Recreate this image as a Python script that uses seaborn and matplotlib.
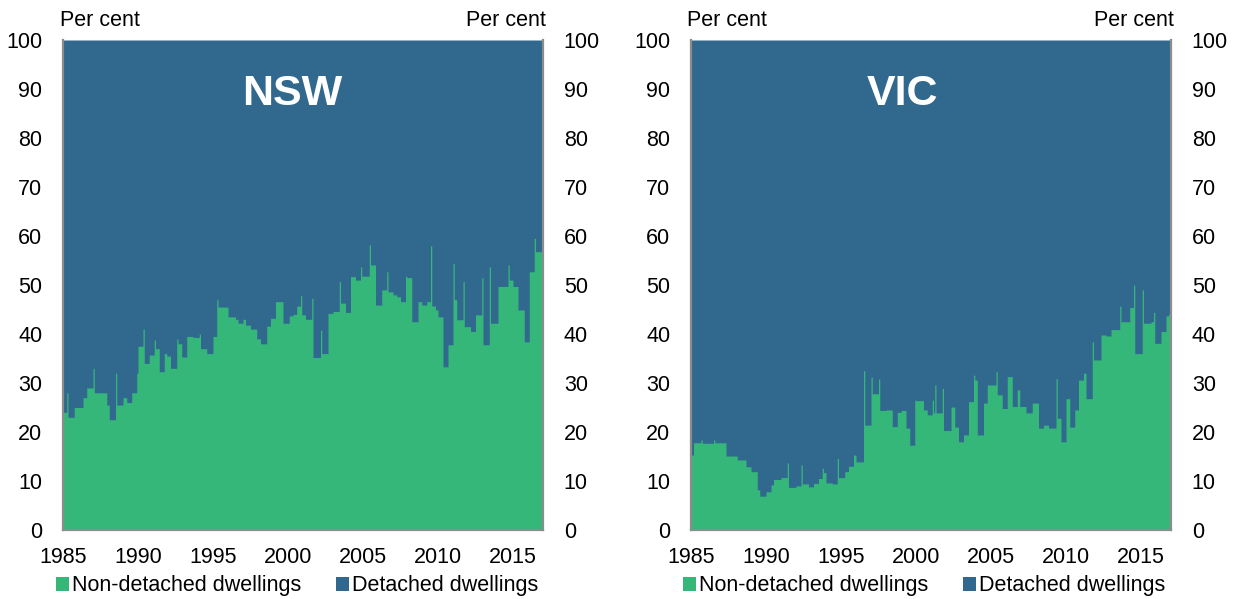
import numpy as np
import pandas as pd
import matplotlib
matplotlib.use("Agg")
import matplotlib.pyplot as plt
from matplotlib.patches import Patch
import seaborn as sns

# Monthly share of dwelling approvals, Jan 1985 - Dec 2016 (per cent)
YEAR_START, YEAR_END = 1985, 2017
year_ticks = [1985, 1990, 1995, 2000, 2005, 2010, 2015]
y_ticks = list(range(0, 101, 10))
series_labels = ["Non-detached dwellings", "Detached dwellings"]
panel_titles = ["NSW", "VIC"]

nsw_non_detached = [
    24, 24, 24, 28, 23, 23, 23, 23, 23, 25, 25, 25,                      # 1985
    25, 25, 25, 25, 27, 27, 27, 29, 29, 29, 29, 29,                      # 1986
    33, 28, 28, 28, 28, 28, 28, 28, 28, 28, 28, 25.5,                    # 1987
    25.5, 22.5, 22.5, 22.5, 22.5, 22.5, 32, 25.5, 25.5, 25.5, 25.5, 25.5,  # 1988
    27, 27, 27, 26, 26, 26, 26, 28, 28, 28, 28, 32,                      # 1989
    37.5, 37.5, 37.5, 37.5, 41, 34, 34, 34, 34, 35.7, 35.7, 35.7,        # 1990
    35.7, 38.8, 37, 37, 37, 32.3, 32.3, 32.3, 32.3, 36, 36, 35.5,        # 1991
    35.5, 35.5, 33, 33, 33, 33, 33, 39, 38, 38, 38, 35.3,                # 1992
    35.3, 35.3, 35.3, 39.5, 39.5, 39.5, 39.5, 39.5, 39.3, 39.3, 39.3, 39.3,  # 1993
    39.3, 40, 37, 37, 37, 37, 37, 36, 36, 36, 36, 36,                    # 1994
    39.5, 39.5, 39.5, 47, 45.5, 45.5, 45.5, 45.5, 45.5, 45.5, 45.5, 45.5,  # 1995
    43.5, 43.5, 43.5, 43.5, 43.5, 43.5, 43, 43, 42.2, 42.2, 42.2, 42.2,  # 1996
    43, 43, 41.8, 41.8, 41.8, 41.8, 41, 41, 41, 41, 41, 39,              # 1997
    39, 39, 38, 38, 38, 38, 38, 41.6, 41.6, 41.6, 43.2, 43.2,            # 1998
    43.2, 43.2, 46.6, 46.6, 46.6, 46.6, 46.6, 46.6, 42.2, 42.2, 42.2, 42.2,  # 1999
    42.2, 43.7, 43.7, 43.7, 44, 44, 44, 45.7, 45.7, 45.7, 47.8, 43.9,    # 2000
    43.9, 43.9, 43, 43, 43, 43, 43, 47.3, 35.2, 35.2, 35.2, 35.2,        # 2001
    35.2, 35.2, 40.8, 36, 36, 36, 36, 36, 44.2, 44.2, 44.2, 44.2,        # 2002
    44.6, 44.6, 44.6, 44.6, 44.6, 50.7, 46.3, 46.3, 46.3, 46.3, 44.4, 44.4,  # 2003
    44.4, 44.4, 51.7, 51.7, 51.7, 51.7, 51, 51, 51, 51, 53.7, 51.8,      # 2004
    51.8, 51.8, 51.8, 51.8, 51.8, 58.2, 54.1, 54.1, 54.1, 54.1, 45.9, 45.9,  # 2005
    45.9, 45.9, 45.9, 49, 49, 49, 49, 52.7, 48.6, 48.6, 48.6, 48.6,      # 2006
    48, 48, 48, 47.6, 47.6, 47.6, 46.6, 46.6, 46.6, 46.6, 51.8, 51.5,    # 2007
    51.5, 51.5, 51.5, 42.5, 42.5, 42.5, 42.5, 42.5, 46.6, 46.6, 46.6, 45.9,  # 2008
    45.9, 45.9, 45.9, 46.6, 46.6, 46.6, 58, 45.7, 45.7, 45.7, 44.9, 44.9,  # 2009
    43.5, 43.5, 43.5, 43.5, 33.3, 33.3, 33.3, 33.3, 37.8, 37.8, 37.8, 37.8,  # 2010
    54.4, 47, 47, 42.9, 42.9, 42.9, 42.9, 42.9, 50.7, 41.5, 41.5, 41.5,  # 2011
    41.5, 41.5, 40.5, 40.5, 40.5, 40.5, 43.9, 43.9, 43.9, 43.9, 43.9, 51.5,  # 2012
    37.8, 37.8, 37.8, 37.8, 37.8, 53.7, 42.2, 42.2, 42.2, 42.2, 42.2, 42.2,  # 2013
    49.7, 49.7, 49.7, 49.7, 49.7, 49.7, 49.7, 49.7, 54.1, 51, 51, 51,    # 2014
    49.7, 49.7, 49.7, 49.7, 44.9, 44.9, 44.9, 44.9, 44.9, 38.4, 38.4, 38.4,  # 2015
    38.4, 52.7, 52.7, 52.7, 52.7, 59.5, 56.8, 56.8, 56.8, 56.8, 56.8, 56.8,  # 2016
]

vic_non_detached = [
    15.3, 15.3, 17.8, 17.8, 17.8, 17.8, 17.8, 17.8, 18.4, 17.7, 17.7, 17.7,  # 1985
    17.7, 17.7, 17.7, 17.7, 17.7, 17.7, 18.4, 17.8, 17.8, 17.8, 17.8, 17.8,  # 1986
    17.8, 17.8, 17.8, 17.8, 15.1, 15.1, 15.1, 15.1, 15.1, 15.1, 15.1, 15.1,  # 1987
    15.1, 14.3, 14.3, 14.3, 14.3, 14.3, 14.3, 14.3, 12.9, 12.9, 12.9, 12.9,  # 1988
    11.9, 11.9, 11.9, 11.9, 11.9, 8.2, 8.2, 6.9, 6.9, 6.9, 6.9, 6.9,         # 1989
    7.8, 7.8, 7.8, 7.8, 9.2, 9.2, 10.3, 10.3, 10.3, 10.3, 10.3, 10.3,        # 1990
    10.7, 10.7, 10.7, 10.7, 10.7, 13.7, 8.7, 8.7, 8.7, 8.7, 8.7, 8.7,        # 1991
    9, 9, 9, 9, 13.3, 9.4, 9.4, 9.4, 9.4, 9.4, 8.8, 8.8,                     # 1992
    8.8, 8.8, 9.5, 9.5, 9.5, 9.5, 10.5, 10.5, 10.5, 12.6, 11.7, 11.7,        # 1993
    9.6, 9.6, 9.6, 9.6, 9.6, 9.4, 9.4, 9.4, 9.4, 14.6, 10.7, 10.7,           # 1994
    10.7, 10.7, 10.7, 11.9, 11.9, 11.9, 13, 13, 13, 13, 15.3, 15.3,          # 1995
    13.9, 13.9, 13.9, 13.9, 13.9, 13.9, 32.5, 21.4, 21.4, 21.4, 21.4, 21.4,  # 1996
    31.2, 27.8, 27.8, 27.8, 27.8, 27.8, 30.8, 24.4, 24.4, 24.4, 24.4, 24.4,  # 1997
    24.5, 24.5, 24.5, 24.5, 24.5, 21.1, 21.1, 21.1, 21.1, 24, 24, 24,        # 1998
    24.4, 24.4, 24.4, 24.4, 20.8, 20.8, 20.8, 17.3, 17.3, 17.3, 17.3, 26.5,  # 1999
    26.4, 26.4, 26.4, 26.4, 26.4, 26.4, 24.5, 24.5, 24.5, 23.5, 23.5, 23.5,  # 2000
    23.5, 26.5, 23.9, 29.6, 23.9, 23.9, 23.9, 23.9, 23.9, 28.9, 20.3, 20.3,  # 2001
    20.3, 20.3, 20.3, 20.3, 25.1, 25.1, 25.1, 21, 21, 21, 18, 18,            # 2002
    18, 18, 19.4, 19.4, 19.4, 19.4, 26.2, 26.2, 26.2, 26.2, 31.6, 30.6,      # 2003
    30.6, 19.4, 19.4, 19.4, 19.4, 19.4, 25.9, 25.9, 25.9, 29.6, 29.6, 29.6,  # 2004
    29.6, 29.6, 29.6, 29.6, 32.3, 27.6, 27.6, 27.6, 27.6, 24.8, 24.8, 24.8,  # 2005
    24.8, 31.3, 31.3, 31.3, 31.3, 25.2, 25.2, 25.2, 25.2, 28.6, 28.6, 25.2,  # 2006
    25.2, 25.2, 25.2, 25.2, 23.9, 23.9, 23.9, 23.9, 23.9, 25.9, 25.9, 25.9,  # 2007
    25.9, 25.9, 20.8, 20.8, 20.8, 20.8, 21.4, 21.4, 21.4, 21.4, 20.8, 20.8,  # 2008
    20.8, 20.8, 20.8, 20.8, 30.9, 22.8, 22.8, 22.8, 18, 18, 18, 18,          # 2009
    26.8, 26.8, 26.8, 21, 21, 21, 21, 24.5, 24.5, 24.5, 30.6, 30.6,          # 2010
    30.6, 30.6, 32, 32, 26.8, 26.8, 26.8, 26.8, 26.8, 38.4, 34.7, 34.7,      # 2011
    34.7, 34.7, 34.7, 34.7, 39.8, 39.8, 39.8, 39.8, 39.6, 39.6, 39.6, 39.6,  # 2012
    40.9, 40.9, 40.9, 40.9, 40.9, 40.9, 40.9, 45.7, 42.5, 42.5, 42.5, 42.5,  # 2013
    42.5, 42.5, 42.5, 45.4, 45.4, 45.4, 50, 36, 36, 36, 36, 36,              # 2014
    36, 49, 42.2, 42.2, 42.2, 42.2, 42.2, 42.2, 42.5, 42.5, 44.4, 38.1,      # 2015
    38.1, 38.1, 38.1, 38.1, 40.5, 40.5, 40.5, 40.5, 43.7, 43.7, 44, 44,      # 2016
]

GREEN = "#35b779"
BLUE = "#31688e"
SPINE = "#8c8c8c"
FS = 15.5

sns.set_theme(style="white")
plt.rcParams["font.family"] = ["Liberation Sans", "DejaVu Sans"]
plt.rcParams["text.color"] = "black"
plt.rcParams["xtick.major.size"] = 0
plt.rcParams["ytick.major.size"] = 0


def build_frame(non_detached):
    non = np.asarray(non_detached, dtype=float)
    months = np.arange(len(non))
    return pd.DataFrame({
        "date": YEAR_START + (months + 0.5) / 12,
        "non_detached": non,
        "detached": 100 - non,
    })


def draw_panel(ax, df, title, title_x):
    n = len(df)
    df = df.assign(total=df["non_detached"] + df["detached"])
    common = dict(data=df, x="date", bins=n, binrange=(YEAR_START, YEAR_END),
                  element="step", fill=True, alpha=1, linewidth=0, ax=ax)
    # detached share stacked on top of the non-detached share
    sns.histplot(weights="total", color=BLUE, **common)
    sns.histplot(weights="non_detached", color=GREEN, **common)

    ax.set_xlim(YEAR_START, YEAR_END)
    ax.set_ylim(0, 100)
    ax.set_xticks(year_ticks)
    ax.set_xticklabels([str(y) for y in year_ticks])
    ax.set_yticks(y_ticks)
    ax.set_yticklabels([str(v) for v in y_ticks])
    ax.set_xlabel("")
    ax.set_ylabel("")
    ax.tick_params(axis="y", which="both", left=False, right=False, length=0,
                   labelleft=True, labelright=True, labelsize=FS, pad=15,
                   colors="black")
    ax.tick_params(axis="x", bottom=False, length=0, labelsize=FS, pad=12.5,
                   colors="black")
    for side in ("left", "right", "bottom"):
        ax.spines[side].set_visible(True)
        ax.spines[side].set_color(SPINE)
        ax.spines[side].set_linewidth(1.6)
    ax.spines["top"].set_visible(False)
    ax.text(title_x, 89.0, title, color="white", fontsize=31,
            fontweight="bold", ha="center", va="center")


fig = plt.figure(figsize=(12.34, 5.99), dpi=100)
W, H = 1234, 599
ax_left = fig.add_axes([63 / W, 69 / H, 480 / W, 490 / H])
ax_right = fig.add_axes([691 / W, 69 / H, 480 / W, 490 / H])

draw_panel(ax_left, build_frame(nsw_non_detached), panel_titles[0], 2000.3)
draw_panel(ax_right, build_frame(vic_non_detached), panel_titles[1], 1999.1)

# unit labels above each vertical axis
for x0, x1 in ((60, 546), (687, 1174)):
    fig.text(x0 / W, 1 - 20 / H, "Per cent", ha="left", va="center",
             fontsize=FS, color="black")
    fig.text(x1 / W, 1 - 20 / H, "Per cent", ha="right", va="center",
             fontsize=FS, color="black")

handles = [Patch(facecolor=GREEN, edgecolor="none", label=series_labels[0]),
           Patch(facecolor=BLUE, edgecolor="none", label=series_labels[1])]
for cx in (297, 924):
    leg = fig.legend(handles=handles, loc="center",
                     bbox_to_anchor=(cx / W, 1 - 586 / H), ncol=2,
                     frameon=False, fontsize=FS, handlelength=0.6,
                     handleheight=0.6, handletextpad=0.15, columnspacing=1.6,
                     borderpad=0, borderaxespad=0)
    for t in leg.get_texts():
        t.set_color("black")

fig.savefig("out.png", dpi=100, facecolor="white")
